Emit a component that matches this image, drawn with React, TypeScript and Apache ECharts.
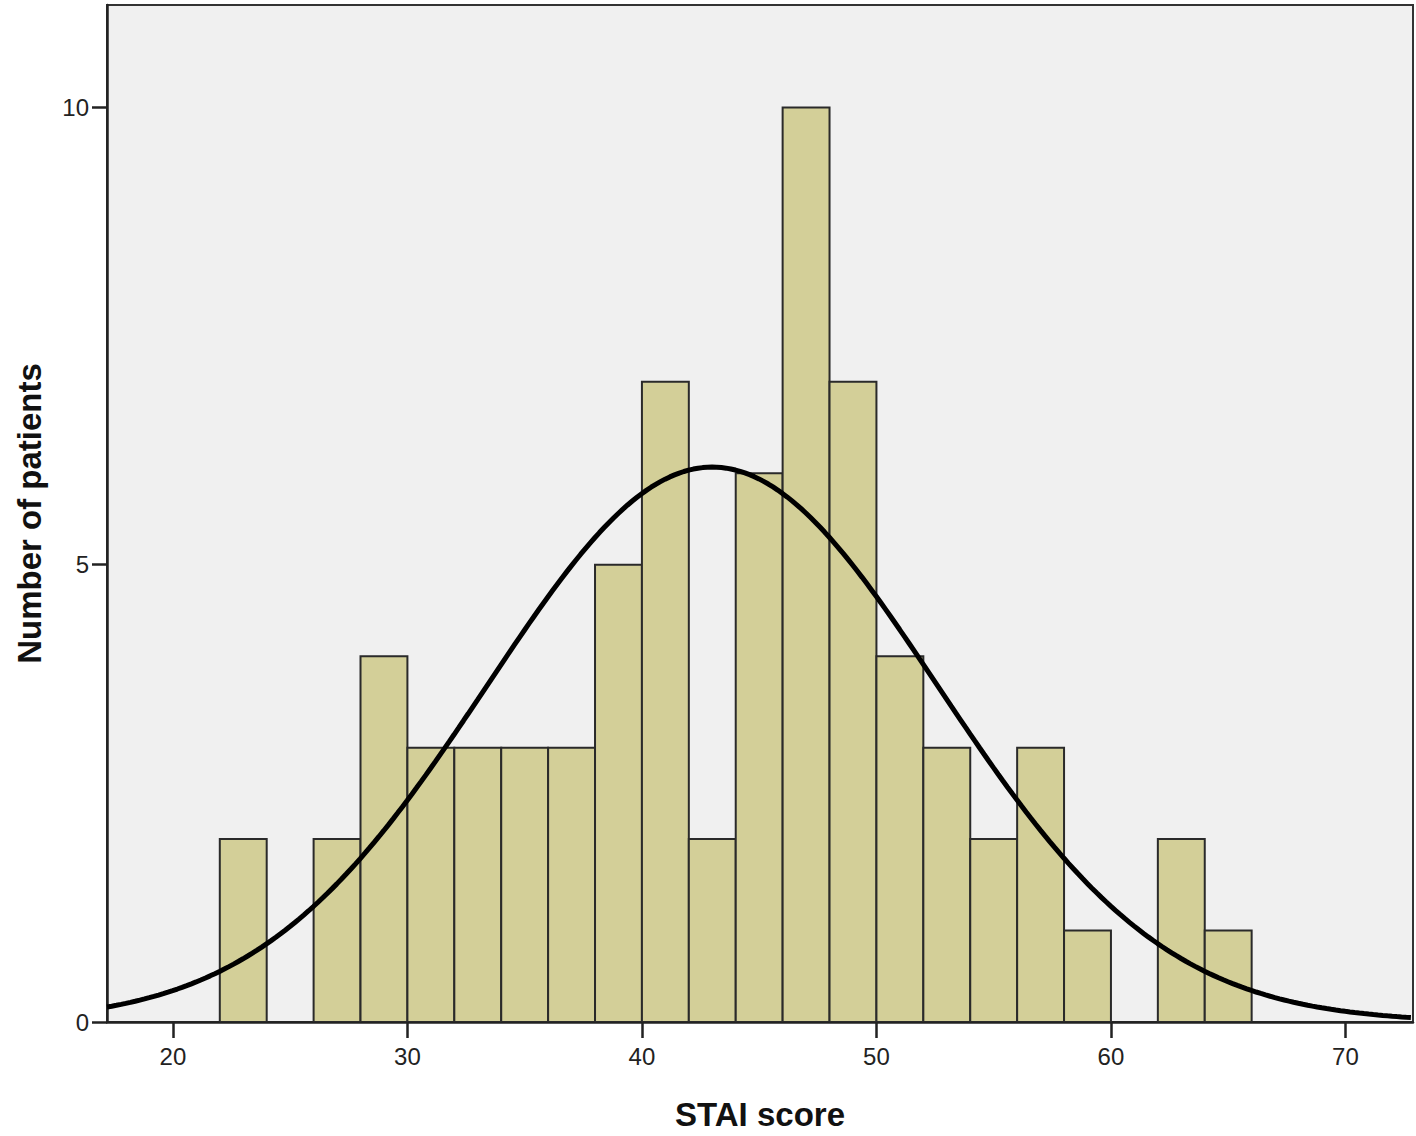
import React, { useEffect, useRef } from "react";
import * as echarts from "echarts";

// Histogram bins (bin start, bin end) and counts
const binStarts = [22, 24, 26, 28, 30, 32, 34, 36, 38, 40, 42, 44, 46, 48, 50, 52, 54, 56, 58, 60, 62, 64];
const binWidth = 2;
const counts = [2, 0, 2, 4, 3, 3, 3, 3, 5, 7, 2, 6, 10, 7, 4, 3, 2, 3, 1, 0, 2, 1];

// Normal curve parameters (fitted curve drawn by SPSS)
const curveMean = 43.0;
const curveSD = 9.6;

const xTicks = [20, 30, 40, 50, 60, 70];
const yTicks = [0, 5, 10];
const xMin = 17.19;
const xMax = 72.88;
const yMax = 11.12;

const xTitle = "STAI score";
const yTitle = "Number of patients";

const W = 1416;
const H = 1136;

export default function App() {
  const ref = useRef<HTMLDivElement>(null);

  useEffect(() => {
    if (!ref.current) return;
    const chart = echarts.init(ref.current, null, { renderer: "svg", width: W, height: H });

    const n = counts.reduce((a, b) => a + b, 0);
    const barData = binStarts.map((s, i) => [s, s + binWidth, counts[i]]);
    const curve: number[][] = [];
    for (let x = xMin; x <= xMax + 0.001; x += 0.2) {
      const z = (x - curveMean) / curveSD;
      const y = (n * binWidth) / (curveSD * Math.sqrt(2 * Math.PI)) * Math.exp(-0.5 * z * z);
      curve.push([x, y]);
    }

    const font = "Arial, 'Liberation Sans', sans-serif";

    chart.setOption({
      animation: false,
      backgroundColor: "#ffffff",
      grid: {
        left: 107,
        top: 5,
        right: 3,
        bottom: 109,
        show: true,
        backgroundColor: "#F0F0F0",
        borderColor: "#333333",
        borderWidth: 2,
      },
      xAxis: {
        type: "value",
        min: xMin,
        max: xMax,
        name: xTitle,
        nameLocation: "middle",
        nameGap: 76,
        nameTextStyle: { fontFamily: font, fontWeight: "bold", fontSize: 33, color: "#111" },
        splitLine: { show: false },
        axisLine: { show: true, onZero: false, lineStyle: { color: "#222", width: 2.5 } },
        axisTick: { show: true, inside: false, length: 16, customValues: xTicks, lineStyle: { color: "#222", width: 2.5 } },
        axisLabel: {
          customValues: xTicks,
          margin: 22,
          fontFamily: font,
          fontSize: 24,
          color: "#222",
        },
      },
      yAxis: {
        type: "value",
        min: 0,
        max: yMax,
        name: yTitle,
        nameLocation: "middle",
        nameGap: 61,
        nameTextStyle: { fontFamily: font, fontWeight: "bold", fontSize: 33, color: "#111" },
        splitLine: { show: false },
        axisLine: { show: true, lineStyle: { color: "#222", width: 2.5 } },
        axisTick: { show: true, inside: false, length: 15, customValues: yTicks, lineStyle: { color: "#222", width: 2.5 } },
        axisLabel: {
          customValues: yTicks,
          margin: 18,
          fontFamily: font,
          fontSize: 24,
          color: "#222",
        },
      },
      series: [
        {
          type: "custom",
          data: barData,
          encode: { x: [0, 1], y: 2 },
          clip: true,
          renderItem: (params: any, api: any) => {
            const v = api.value(2);
            if (!v) return null;
            const p0 = api.coord([api.value(0), v]);
            const p1 = api.coord([api.value(1), 0]);
            return {
              type: "rect",
              shape: { x: p0[0], y: p0[1], width: p1[0] - p0[0], height: p1[1] - p0[1] },
              style: { fill: "#D3CF98", stroke: "#2a2a2a", lineWidth: 2 },
            };
          },
          z: 2,
        },
        {
          type: "line",
          data: curve,
          showSymbol: false,
          symbol: "none",
          smooth: false,
          clip: true,
          lineStyle: { color: "#000", width: 5 },
          z: 3,
        },
      ],
    });

    return () => chart.dispose();
  }, []);

  return (
    <div
      ref={ref}
      style={{ position: "absolute", left: 0, top: 0, width: W, height: H }}
    />
  );
}
